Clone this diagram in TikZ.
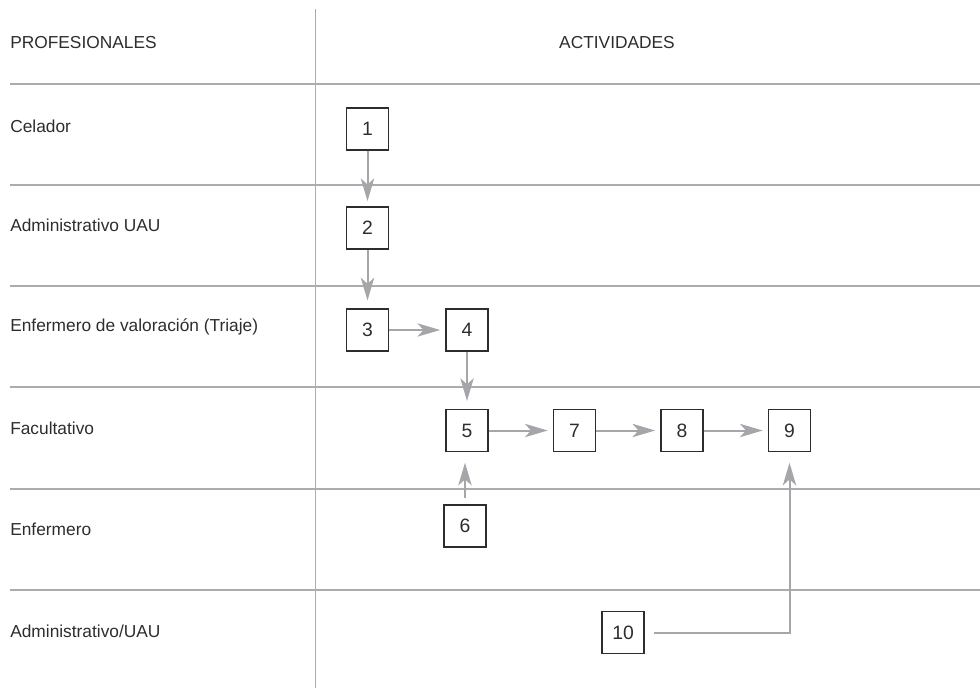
\documentclass[tikz,border=0pt]{standalone}
\usepackage{fontspec}
\setmainfont{Liberation Sans}
\definecolor{rule}{RGB}{172,172,175}
\definecolor{ink}{RGB}{45,45,48}
\definecolor{flow}{RGB}{165,165,170}
\usetikzlibrary{arrows.meta}

\begin{document}
\begin{tikzpicture}[x=0.75pt, y=-0.75pt, font=\fontsize{13}{15}\selectfont,
    lane/.style={rule, line width=1.1pt},
    box/.style={draw=ink, line width=0.8pt, minimum size=31.5pt, inner sep=0pt, text=ink, font=\fontsize{14.5}{16}\selectfont},
    lab/.style={anchor=west, inner sep=0pt, text=ink},
    flowarrow/.style={flow, line width=1.5pt, -{Stealth[length=17pt, width=10pt, inset=4.5pt]}, shorten >=4pt}]

        \useasboundingbox (0,0) rectangle (980,688);

        \foreach \y in {84,185,286,387,489,590}
          \draw[lane] (10,\y) -- (980,\y);
        \draw[lane] (315.5,9) -- (315.5,688);

        \node[lab] (hdProf) at (10,43) {PROFESIONALES};
        \node[inner sep=0pt, text=ink] (hdAct) at (617,43) {ACTIVIDADES};

        \node[lab] (laCelador) at (10,126) {Celador};
        \node[lab] (laAdmin) at (10,225) {Administrativo UAU};
        \node[lab] (laTriaje) at (10,327) {Enfermero de valoración (Triaje)};
        \node[lab] (laFacult) at (10,428) {Facultativo};
        \node[lab] (laEnferm) at (10,529) {Enfermero};
        \node[lab] (laAdminB) at (10,631) {Administrativo/UAU};

        \node[box] (n1) at (367.5,129) {1};
        \node[box] (n2) at (367.5,228) {2};
        \node[box] (n3) at (367.5,330) {3};
        \node[box] (n4) at (467,330) {4};
        \node[box] (n5) at (467,430.5) {5};
        \node[box] (n7) at (574.5,430.5) {7};
        \node[box] (n8) at (682,430.5) {8};
        \node[box] (n9) at (789.5,430.5) {9};
        \node[box] (n6) at (465,526) {6};
        \node[box] (n10) at (623,632.5) {10};

        \draw[flowarrow] (n1) -- (n2);
        \draw[flowarrow, shorten >=6pt] (n2) -- (n3);
        \draw[flowarrow] (n3) -- (n4);
        \draw[flowarrow, shorten >=6pt] (n4) -- (n5);
        \draw[flowarrow] (n5) -- (n7);
        \draw[flowarrow] (n7) -- (n8);
        \draw[flowarrow] (n8) -- (n9);
        \draw[flowarrow, shorten <=5pt, shorten >=8pt] (n6) -- (n6 |- n5.south);
        \draw[flowarrow, shorten <=7pt, shorten >=8pt] (n10) -| (n9);
      \end{tikzpicture}
\end{document}
